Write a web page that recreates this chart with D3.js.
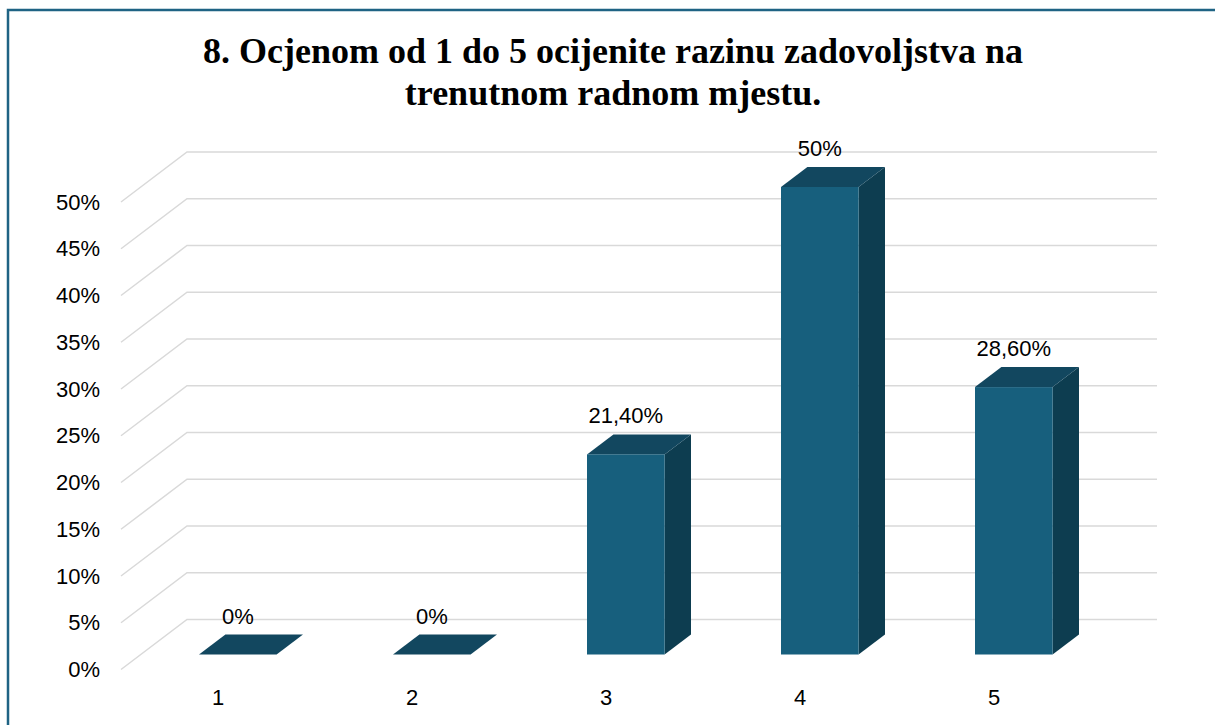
<!DOCTYPE html>
<html>
<head>
<meta charset="utf-8">
<script src="https://cdn.jsdelivr.net/npm/d3@7"></script>
<style>
  body { margin: 0; background: #fff; }
  .tick text { font-family: "Liberation Sans", Arial, sans-serif; font-size: 22px; fill: #000; }
</style>
</head>
<body>
<div id="chart"></div>
<script>
// data
const categories = ["1", "2", "3", "4", "5"];
const values = [0, 0, 21.4, 50, 28.6];
const valueLabels = ["0%", "0%", "21,40%", "50%", "28,60%"];
const yTicks = [0, 5, 10, 15, 20, 25, 30, 35, 40, 45, 50];
const titleLines = ["8. Ocjenom od 1 do 5 ocijenite razinu zadovoljstva na", "trenutnom radnom mjestu."];

const width = 1215, height = 725;
// fake 3d: how far the back wall sits from the front plane
const depth = { dx: 66, dy: -50 };
const barFront = 0.3, barBack = 0.7;

const svg = d3.select("#chart")
    .append("svg")
    .attr("width", width)
    .attr("height", height);

// outer frame (only top and left edges show)
svg.append("rect")
    .attr("x", 8).attr("y", 10)
    .attr("width", 1400).attr("height", 900)
    .attr("fill", "none")
    .attr("stroke", "#1f6384")
    .attr("stroke-width", 2.5);

// title
svg.append("text")
    .attr("text-anchor", "middle")
    .attr("font-family", "'Liberation Serif', 'Times New Roman', serif")
    .attr("font-weight", "bold")
    .attr("font-size", 36)
    .selectAll("tspan")
    .data(titleLines)
    .join("tspan")
    .attr("x", 613)
    .attr("y", (d, i) => 63 + i * 42)
    .text(d => d);

// scales live on the front plane
const xScale = d3.scaleBand()
    .domain(categories)
    .range([121, 121 + 970]);

const yScale = d3.scaleLinear()
    .domain([0, 50])
    .range([669.5, 202]);

// gridlines: diagonal on the side wall then flat along the back wall
svg.append("g")
    .selectAll("path")
    .data(yTicks)
    .join("path")
    .attr("d", d => {
        const x0 = xScale.range()[0], y0 = yScale(d);
        return `M${x0},${y0} L${x0 + depth.dx},${y0 + depth.dy} L${xScale.range()[1] + depth.dx},${y0 + depth.dy}`;
    })
    .attr("fill", "none")
    .attr("stroke", "#d9d9d9")
    .attr("stroke-width", 1.5);

// y axis labels
const yAxis = svg.append("g")
    .attr("transform", "translate(100,0)")
    .call(d3.axisLeft(yScale).tickValues(yTicks).tickFormat(d => d + "%").tickSize(0).tickPadding(0));
yAxis.select(".domain").remove();

// x axis labels
const xAxis = svg.append("g")
    .attr("transform", `translate(0,${yScale(0)})`)
    .call(d3.axisBottom(xScale).tickSize(0).tickPadding(20));
xAxis.select(".domain").remove();

// bars: front face, top and right side
const barW = xScale.bandwidth() * 0.4;
const bars = svg.append("g")
    .selectAll("g")
    .data(values)
    .join("g");

function corner(i, v, t) {
    // left x and y of a bar at depth fraction t
    const x = xScale(categories[i]) + (xScale.bandwidth() - barW) / 2 + depth.dx * t;
    return [x, yScale(v) + depth.dy * t];
}

bars.append("path") // side
    .attr("d", (d, i) => {
        const [xa, ya] = corner(i, d, barFront), [xb, yb] = corner(i, d, barBack);
        const [, ba] = corner(i, 0, barFront), [, bb] = corner(i, 0, barBack);
        return `M${xa + barW},${ya} L${xb + barW},${yb} L${xb + barW},${bb} L${xa + barW},${ba} Z`;
    })
    .attr("fill", "#0d3d50");

bars.append("path") // top
    .attr("d", (d, i) => {
        const [xa, ya] = corner(i, d, barFront), [xb, yb] = corner(i, d, barBack);
        return `M${xa},${ya} L${xb},${yb} L${xb + barW},${yb} L${xa + barW},${ya} Z`;
    })
    .attr("fill", "#12475f");

bars.append("rect") // front
    .attr("x", (d, i) => corner(i, d, barFront)[0])
    .attr("y", (d, i) => corner(i, d, barFront)[1])
    .attr("width", barW)
    .attr("height", (d, i) => corner(i, 0, barFront)[1] - corner(i, d, barFront)[1])
    .attr("fill", "#175f7d");

// value labels
bars.append("text")
    .attr("x", (d, i) => corner(i, d, barFront)[0] + barW / 2)
    .attr("y", (d, i) => corner(i, d, barFront)[1] - 31)
    .attr("text-anchor", "middle")
    .attr("font-family", "'Liberation Sans', Arial, sans-serif")
    .attr("font-size", 22)
    .text((d, i) => valueLabels[i]);
</script>
</body>
</html>
